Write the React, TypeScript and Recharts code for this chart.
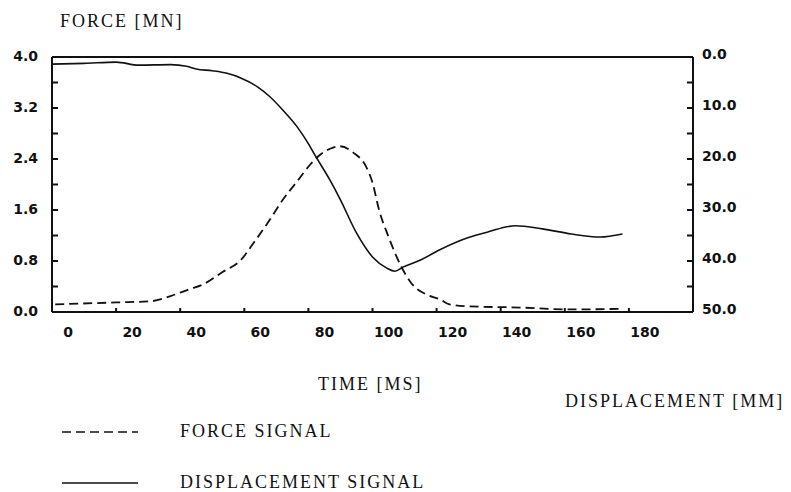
import { LineChart, Line, XAxis, YAxis, Legend } from "recharts"

// time axis (ms)
const forceTime = [-4, 15, 26, 32, 38, 42, 48, 54, 58, 63, 67, 71.5, 75.5, 78, 82.7, 85, 89, 93, 95, 97, 100, 104, 107, 112, 116, 119, 125, 141, 157, 172]
const forceValues = [0.12, 0.15, 0.17, 0.25, 0.36, 0.43, 0.62, 0.82, 1.09, 1.45, 1.76, 2.05, 2.31, 2.44, 2.58, 2.6, 2.5, 2.28, 2.03, 1.61, 1.18, 0.71, 0.46, 0.27, 0.2, 0.12, 0.09, 0.07, 0.04, 0.05]

const dispTime = [-5, 5, 15, 22, 32, 37, 40, 45, 49.6, 53.7, 59, 63, 67, 71.5, 74.6, 77, 81.7, 85, 90, 95, 99.5, 102, 104.5, 110, 116, 124.5, 131, 139.5, 148, 157, 166, 173]
const dispValues = [1.4, 1.25, 1.0, 1.6, 1.5, 1.8, 2.35, 2.7, 3.2, 4.05, 5.8, 7.8, 10.4, 13.7, 16.6, 19.2, 24.1, 28, 34.5, 39.2, 41.4, 42, 41.2, 39.8, 37.8, 35.5, 34.3, 33.1, 33.7, 34.7, 35.3, 34.7]

const timeLabels = [0, 20, 40, 60, 80, 100, 120, 140, 160, 180]
const timeMarks = [15, 35, 55, 75, 95, 115, 135, 155, 175]
const forceTicks = [0, 0.4, 0.8, 1.2, 1.6, 2.0, 2.4, 2.8, 3.2, 3.6, 4.0]
const dispTicks = [0, 5, 10, 15, 20, 25, 30, 35, 40, 45, 50]
const legendOrder = ["force", "disp"]

const forceData = forceTime.map((t, i) => ({ t, force: forceValues[i] }))
const dispData = dispTime.map((t, i) => ({ t, disp: dispValues[i] }))

const INK = "#111"
const tickFont = { fontFamily: "'DejaVu Sans', sans-serif", fontWeight: 700, fontSize: 14 }
const serif = "'Liberation Serif', 'Times New Roman', serif"

function BottomTick({ x, y, payload }: any) {
  const v = payload.value
  if (timeLabels.includes(v)) {
    return (
      <text x={x} y={y + 25} textAnchor="middle" fill={INK} style={tickFont}>
        {v}
      </text>
    )
  }
  return <line x1={x} x2={x} y1={y} y2={y - 4} stroke={INK} strokeWidth={2} />
}

function TopTick({ x, y }: any) {
  return <line x1={x} x2={x} y1={y} y2={y + 4} stroke={INK} strokeWidth={2} />
}

function ForceTick({ x, y, payload }: any) {
  const v = payload.value
  const labelled = Math.round(v * 10) % 8 === 0
  return (
    <g>
      <line x1={x} x2={x + 6} y1={y} y2={y} stroke={INK} strokeWidth={2} />
      {labelled && (
        <text x={x - 14} y={y + 4} textAnchor="end" fill={INK} style={tickFont}>
          {v.toFixed(1)}
        </text>
      )}
    </g>
  )
}

function DispTick({ x, y, payload }: any) {
  const v = payload.value
  return (
    <g>
      <line x1={x - 6} x2={x} y1={y} y2={y} stroke={INK} strokeWidth={2} />
      {v % 10 === 0 && (
        <text x={x + 9} y={y + 2} textAnchor="start" fill={INK} style={tickFont}>
          {v.toFixed(1)}
        </text>
      )}
    </g>
  )
}

function SignalLegend({ payload }: any) {
  const items = [...(payload || [])].sort(
    (a: any, b: any) => legendOrder.indexOf(a.dataKey) - legendOrder.indexOf(b.dataKey)
  )
  return (
    <svg width={450} height={80}>
      {items.map((entry: any, i: number) => (
        <g key={entry.value}>
          <line
            x1={62}
            x2={138}
            y1={17 + i * 51}
            y2={17 + i * 51}
            stroke={INK}
            strokeWidth={1.6}
            strokeDasharray={entry.payload?.strokeDasharray}
          />
          <text
            x={180}
            y={22 + i * 51}
            fill={INK}
            style={{ fontFamily: serif, fontSize: 18, letterSpacing: 2 }}
          >
            {entry.value}
          </text>
        </g>
      ))}
    </svg>
  )
}

const titleStyle = {
  position: "absolute" as const,
  fontFamily: serif,
  fontSize: 18,
  lineHeight: "18px",
  letterSpacing: 2,
  color: INK,
  whiteSpace: "nowrap" as const,
}

export default function App() {
  return (
    <div style={{ position: "absolute", left: 0, top: 0, width: 791, height: 492, background: "#fff" }}>
      <LineChart width={791} height={492} margin={{ top: 37, right: 0, bottom: 150, left: 0 }}>
        <XAxis
          xAxisId="bottom"
          dataKey="t"
          type="number"
          domain={[-5, 195]}
          ticks={[...timeLabels, ...timeMarks].sort((a, b) => a - b)}
          interval={0}
          height={30}
          tickSize={0}
          tickMargin={0}
          tick={<BottomTick />}
          axisLine={{ stroke: INK, strokeWidth: 2 }}
        />
        <XAxis
          xAxisId="top"
          orientation="top"
          dataKey="t"
          type="number"
          domain={[-5, 195]}
          ticks={timeMarks}
          interval={0}
          height={20}
          tickSize={0}
          tickMargin={0}
          tick={<TopTick />}
          axisLine={{ stroke: INK, strokeWidth: 2 }}
        />
        <YAxis
          yAxisId="force"
          domain={[0, 4]}
          ticks={forceTicks}
          interval={0}
          width={52}
          tickSize={0}
          tickMargin={0}
          tick={<ForceTick />}
          axisLine={{ stroke: INK, strokeWidth: 2 }}
        />
        <YAxis
          yAxisId="disp"
          orientation="right"
          reversed
          domain={[0, 50]}
          ticks={dispTicks}
          interval={0}
          width={98}
          tickSize={0}
          tickMargin={0}
          tick={<DispTick />}
          axisLine={{ stroke: INK, strokeWidth: 2 }}
        />
        <Legend
          layout="horizontal"
          verticalAlign="middle"
          align="center"
          wrapperStyle={{ left: 0, top: 415, width: 450 }}
          content={<SignalLegend />}
        />
        <Line
          data={forceData}
          xAxisId="bottom"
          yAxisId="force"
          dataKey="force"
          name="FORCE SIGNAL"
          type="monotone"
          stroke={INK}
          strokeWidth={1.8}
          strokeDasharray="9 5"
          dot={false}
          isAnimationActive={false}
        />
        <Line
          data={dispData}
          xAxisId="bottom"
          yAxisId="disp"
          dataKey="disp"
          name="DISPLACEMENT SIGNAL"
          type="monotone"
          stroke={INK}
          strokeWidth={1.6}
          dot={false}
          isAnimationActive={false}
        />
      </LineChart>
      <div style={{ ...titleStyle, left: 60, top: 12 }}>FORCE [MN]</div>
      <div style={{ ...titleStyle, left: 318, top: 375 }}>TIME [MS]</div>
      <div style={{ ...titleStyle, left: 565, top: 392 }}>DISPLACEMENT [MM]</div>
    </div>
  )
}
